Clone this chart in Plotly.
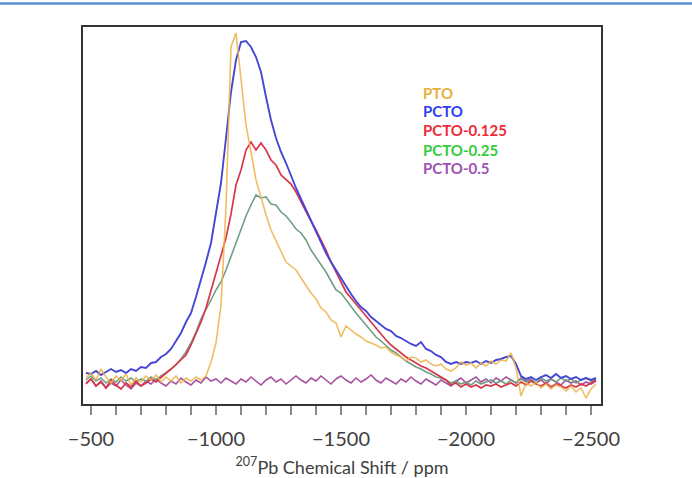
import numpy as np
import plotly.graph_objects as go

# Chemical shift sampling grid (ppm), 20 ppm steps from -480 to -2520
ppm = np.arange(-480, -2521, -20)

names = ["PTO", "PCTO", "PCTO-0.125", "PCTO-0.25", "PCTO-0.5"]

pto = [4, 9, 2, 13, 5, -1, 6, 1, 8, -3,
       4, 0, 6, 2, 7, 0, 5, 1, 6, -1,
       4, 1, 5, 2, 6, 20, 39, 77, 175, 335,
       349, 300, 257, 230, 202, 185, 167, 152, 141, 130,
       120, 116, 112, 104, 96, 89, 83, 74, 70, 62,
       59, 45, 56, 52, 48, 45, 41, 39, 37, 34,
       35, 30, 27, 25, 21, 25, 24, 20, 22, 18,
       16, 18, 13, 11, 14, 20, 17, 19, 14, 19,
       16, 21, 18, 22, 21, 29, 14, -14, -1, -4,
       0, -6, -2, -7, -3, -5, -9, -4, -10, -6,
       -16, -7, -2]

pcto = [9, 8, 11, 7, 10, 13, 10, 12, 9, 13,
        11, 15, 14, 19, 20, 25, 28, 33, 41, 49,
        60, 69, 85, 102, 120, 139, 167, 199, 244, 290,
        322, 340, 341, 335, 325, 310, 285, 262, 244, 230,
        219, 206, 194, 183, 172, 161, 150, 139, 129, 120,
        112, 104, 95, 88, 81, 75, 71, 65, 61, 57,
        53, 51, 46, 44, 41, 38, 36, 40, 33, 31,
        27, 25, 20, 18, 20, 18, 20, 19, 21, 18,
        21, 19, 22, 23, 25, 26, 18, 6, 3, 5,
        2, 5, 7, 4, 8, 4, 6, 3, 5, 2,
        4, 2, 4]

pcto_0125 = [-2, 3, -4, 0, -6, 2, -3, -7, -1, -5,
             1, -4, -1, 3, 0, 5, 9, 13, 18, 22,
             27, 37, 48, 60, 74, 91, 108, 126, 144, 168,
             197, 212, 232, 240, 232, 239, 232, 222, 217, 207,
             202, 198, 190, 180, 170, 161, 152, 142, 132, 120,
             110, 100, 90, 84, 78, 72, 65, 60, 53, 48,
             42, 37, 33, 29, 25, 22, 19, 16, 14, 11,
             8, 5, 2, -3, -1, -5, -2, -5, -3, -6,
             -3, -4, -2, -5, -3, -1, -4, 0, -3, 1,
             -2, -4, -1, -5, -2, -4, -6, -3, -5, -2,
             -4, -1, 2]

pcto_025 = [2, 6, 1, 4, -1, 3, 0, 5, 1, 4,
            0, 3, 1, 5, 2, 6, 9, 13, 17, 23,
            30, 39, 50, 63, 72, 82, 92, 100, 112, 126,
            139, 153, 166, 177, 187, 184, 185, 178, 177, 170,
            166, 160, 153, 149, 142, 132, 125, 117, 110, 101,
            92, 89, 82, 76, 69, 63, 57, 51, 45, 41,
            36, 32, 29, 25, 21, 18, 15, 13, 10, 8,
            5, 4, 2, -1, 1, -2, 0, -3, 1, -2,
            0, 2, -1, 1, -2, 2, -1, 3, 0, 2,
            -1, 4, 1, 3, 0, 4, 1, 3, -1, 2,
            4, 1, 3]

pcto_05 = [-1, 3, -4, 1, -6, -1, -4, 2, -3, -7,
           -1, -4, 1, -2, 3, -1, -4, 1, -2, 4,
           0, -3, 2, -1, 5, 1, 3, -1, 4, 1,
           -2, 3, 0, 5, 1, -3, 2, 5, 0, 3,
           -2, 2, 6, 2, -1, 4, 1, 6, 2, -2,
           3, 6, 2, -1, 4, 0, 3, 7, 2, -1,
           4, 1, -2, 3, 0, 5, 1, -2, 3, 0,
           -3, 2, -1, -4, 1, 4, -1, 2, 5, 0,
           3, -1, 4, 1, 5, 2, -1, 4, 1, 3,
           -1, 2, -2, 3, 0, -3, 2, -1, 1, -3,
           0, -2, 1]

x_ticks = [-500, -1000, -1500, -2000, -2500]

series = {"PTO": pto, "PCTO": pcto, "PCTO-0.125": pcto_0125,
          "PCTO-0.25": pcto_025, "PCTO-0.5": pcto_05}
line_colors = {"PTO": "rgba(236,178,72,0.85)", "PCTO": "#4646d6",
               "PCTO-0.125": "#d8364a", "PCTO-0.25": "#6f9f82",
               "PCTO-0.5": "#a6509e"}
label_colors = {"PTO": "#e8b03a", "PCTO": "#2f3ff0", "PCTO-0.125": "#ee2a36",
                "PCTO-0.25": "#33cc3a", "PCTO-0.5": "#a050b4"}
widths = {"PTO": 1.6, "PCTO": 1.9, "PCTO-0.125": 1.7, "PCTO-0.25": 1.6, "PCTO-0.5": 1.6}

fig = go.Figure()
for name in ["PCTO-0.5", "PCTO-0.25", "PCTO-0.125", "PCTO", "PTO"]:
    fig.add_trace(go.Scatter(x=ppm, y=series[name], mode="lines", name=name,
                             line=dict(color=line_colors[name], width=widths[name]),
                             showlegend=False))

label_y = [0.825, 0.776, 0.7255, 0.675, 0.6247]
for name, yy in zip(names, label_y):
    fig.add_annotation(x=0.6525, y=yy, xref="paper", yref="paper", text="<b>%s</b>" % name,
                       showarrow=False, xanchor="left", yanchor="middle",
                       font=dict(family="Lato", size=15, color=label_colors[name]))

# header rule at the top of the page
fig.add_shape(type="line", xref="paper", yref="paper", x0=-0.2, x1=1.2, y0=1.0625, y1=1.0625,
              line=dict(color="#5b8dd0", width=2.5))

fig.update_layout(
    width=692, height=478,
    margin=dict(l=83, r=91, t=27, b=74),
    paper_bgcolor="white", plot_bgcolor="white",
    font=dict(family="Lato", color="#404040"),
    xaxis=dict(range=[-468, -2540], tickvals=x_ticks, ticks="outside", ticklen=9,
               tickwidth=1.5, tickcolor="#8a8a8a", showline=True, mirror=True,
               linecolor="#333333", linewidth=2.2, showgrid=False, zeroline=False,
               tickfont=dict(size=20, color="#404040"), ticklabelstandoff=7,
               automargin=False,
               minor=dict(dtick=100, ticks="outside", ticklen=9, tickwidth=1.5,
                          tickcolor="#8a8a8a", showgrid=False),
               title=dict(text="<sup>207</sup>Pb Chemical Shift / ppm",
                          font=dict(size=18, color="#404040"), standoff=15)),
    yaxis=dict(range=[-22, 355], showticklabels=False, ticks="", showline=True, mirror=True,
               linecolor="#333333", linewidth=2.2, showgrid=False, zeroline=False,
               automargin=False),
)

fig.write_html("out.html")
